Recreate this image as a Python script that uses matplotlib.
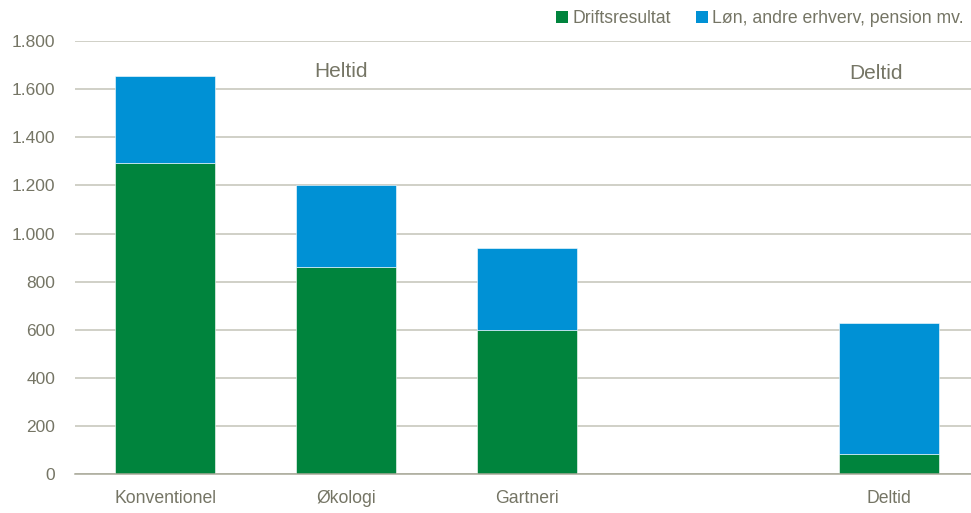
import matplotlib
matplotlib.use('Agg')
import matplotlib.pyplot as plt
from matplotlib.patches import Patch
from matplotlib.ticker import FuncFormatter

# data
categories = ['Konventionel', 'Økologi', 'Gartneri', '', 'Deltid']
driftsresultat = [1295, 860, 600, None, 86]
loen_mv = [360, 340, 340, None, 544]
group_labels = ['Heltid', 'Deltid']
series_names = ['Driftsresultat', 'Løn, andre erhverv, pension mv.']

GREEN = '#00843D'
BLUE = '#0091D5'
TEXT = '#757565'
GRID = '#C4C4B8'

plt.rcParams['font.family'] = ['Liberation Sans', 'DejaVu Sans']

fig = plt.figure(figsize=(9.71, 5.13), dpi=100)
ax = fig.add_axes([74.5 / 971, 1 - 474.3 / 513, 905 / 971, 433.3 / 513])

xs = [i for i, v in enumerate(driftsresultat) if v is not None]
green = [driftsresultat[i] for i in xs]
blue = [loen_mv[i] for i in xs]

ax.bar(xs, green, width=0.555, color=GREEN, edgecolor='white', linewidth=0.4, zorder=3)
ax.bar(xs, blue, bottom=green, width=0.555, color=BLUE, edgecolor='white', linewidth=0.4, zorder=3)

ax.set_xlim(-0.5, 4.5)
ax.set_ylim(0, 1800)
ax.set_yticks(range(0, 1801, 200))
ax.yaxis.set_major_formatter(FuncFormatter(lambda v, p: f'{int(v):,}'.replace(',', '.')))
ax.set_xticks(range(len(categories)))
ax.set_xticklabels(categories)

ax.grid(axis='y', color=GRID, linewidth=1.1, zorder=0)
ax.set_axisbelow(True)
for s in ['top', 'right', 'left']:
    ax.spines[s].set_visible(False)
ax.spines['bottom'].set_color('#A8A898')
ax.spines['bottom'].set_linewidth(1.1)
ax.spines['bottom'].set_zorder(4)

ax.tick_params(axis='y', length=0, pad=14, labelsize=12.5, labelcolor=TEXT)
ax.tick_params(axis='x', length=0, pad=11, labelsize=12.7, labelcolor=TEXT)

# group headings
ax.text(1 - 0.03, 1672, group_labels[0], ha='center', va='center', fontsize=15, color=TEXT)
ax.text(4 - 0.07, 1665, group_labels[1], ha='center', va='center', fontsize=15, color=TEXT)

handles = [Patch(facecolor=GREEN, edgecolor='none'), Patch(facecolor=BLUE, edgecolor='none')]
fig.legend(handles, series_names, loc='center right', bbox_to_anchor=(980 / 971, 1 - 19 / 513),
           ncol=2, frameon=False, fontsize=12.7, labelcolor=TEXT,
           handlelength=0.7, handleheight=0.7, handletextpad=0.25, columnspacing=1.4)

fig.savefig('out.png', dpi=100)
